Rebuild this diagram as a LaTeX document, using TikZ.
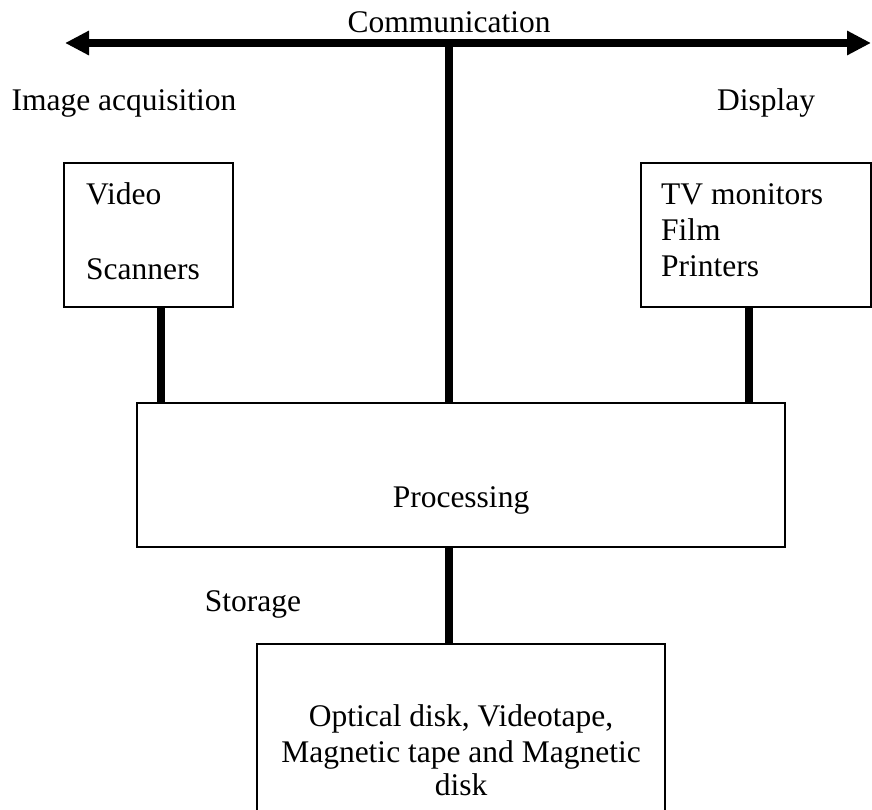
\documentclass[tikz,border=0pt]{standalone}
\usepackage{fontspec}
\setmainfont{Liberation Serif}
\usetikzlibrary{arrows.meta}
\begin{document}
\begin{tikzpicture}[x=1pt,y=-1pt,
  boxstyle/.style={draw, line width=2pt, inner sep=0pt},
  txt/.style={inner sep=0pt, font=\fontsize{31.5}{36}\selectfont},
  thickline/.style={line width=8pt},
  bus/.style={line width=7.5pt, {Triangle[length=24pt,width=23pt]}-{Triangle[length=24pt,width=23pt]}}
]
\useasboundingbox (0,0) rectangle (872,809);
% boxes
\node[boxstyle, minimum width=169pt, minimum height=144pt] (acq) at (148.5,235) {};
\node[boxstyle, minimum width=230pt, minimum height=144pt] (disp) at (756,235) {};
\node[boxstyle, minimum width=648pt, minimum height=144pt] (proc) at (461,475) {};
\node[boxstyle, minimum width=408pt, minimum height=190pt] (stor) at (461,739) {};
% bus
\coordinate (busl) at (65,43);
\coordinate (busr) at (871,43);
\draw[bus] (busl) -- (busr);
\coordinate (ctop) at (449,43);
\draw[thickline] (ctop) -- (ctop |- proc.north);
% connectors
\coordinate (lc) at ([xshift=12.5pt]acq.south);
\draw[thickline] (lc) -- (lc |- proc.north);
\coordinate (rc) at ([xshift=-7pt]disp.south);
\draw[thickline] (rc) -- (rc |- proc.north);
\coordinate (bc) at ([xshift=-12pt]proc.south);
\draw[thickline] (bc) -- (bc |- stor.north);
% texts
\node[txt, anchor=base] (tcomm) at (449,32) {Communication};
\node[txt, anchor=base] (tacq) at (124,110) {Image acquisition};
\node[txt, anchor=base] (tdisp) at (766,110) {Display};
\node[txt, anchor=base west] (tvideo) at (86,204) {Video};
\node[txt, anchor=base west] (tscan) at (86,279) {Scanners};
\node[txt, anchor=base west] (ttv) at (661,204) {TV monitors};
\node[txt, anchor=base west] (tfilm) at (661,240) {Film};
\node[txt, anchor=base west] (tprint) at (661,276) {Printers};
\node[txt, anchor=base] (tproc) at (461,507) {Processing};
\node[txt, anchor=base] (tstor) at (253,611) {Storage};
\node[txt, anchor=base] (tst1) at (461,726) {Optical disk, Videotape,};
\node[txt, anchor=base] (tst2) at (461,762) {Magnetic tape and Magnetic};
\node[txt, anchor=base] (tst3) at (461,795) {disk};
\end{tikzpicture}
\end{document}
